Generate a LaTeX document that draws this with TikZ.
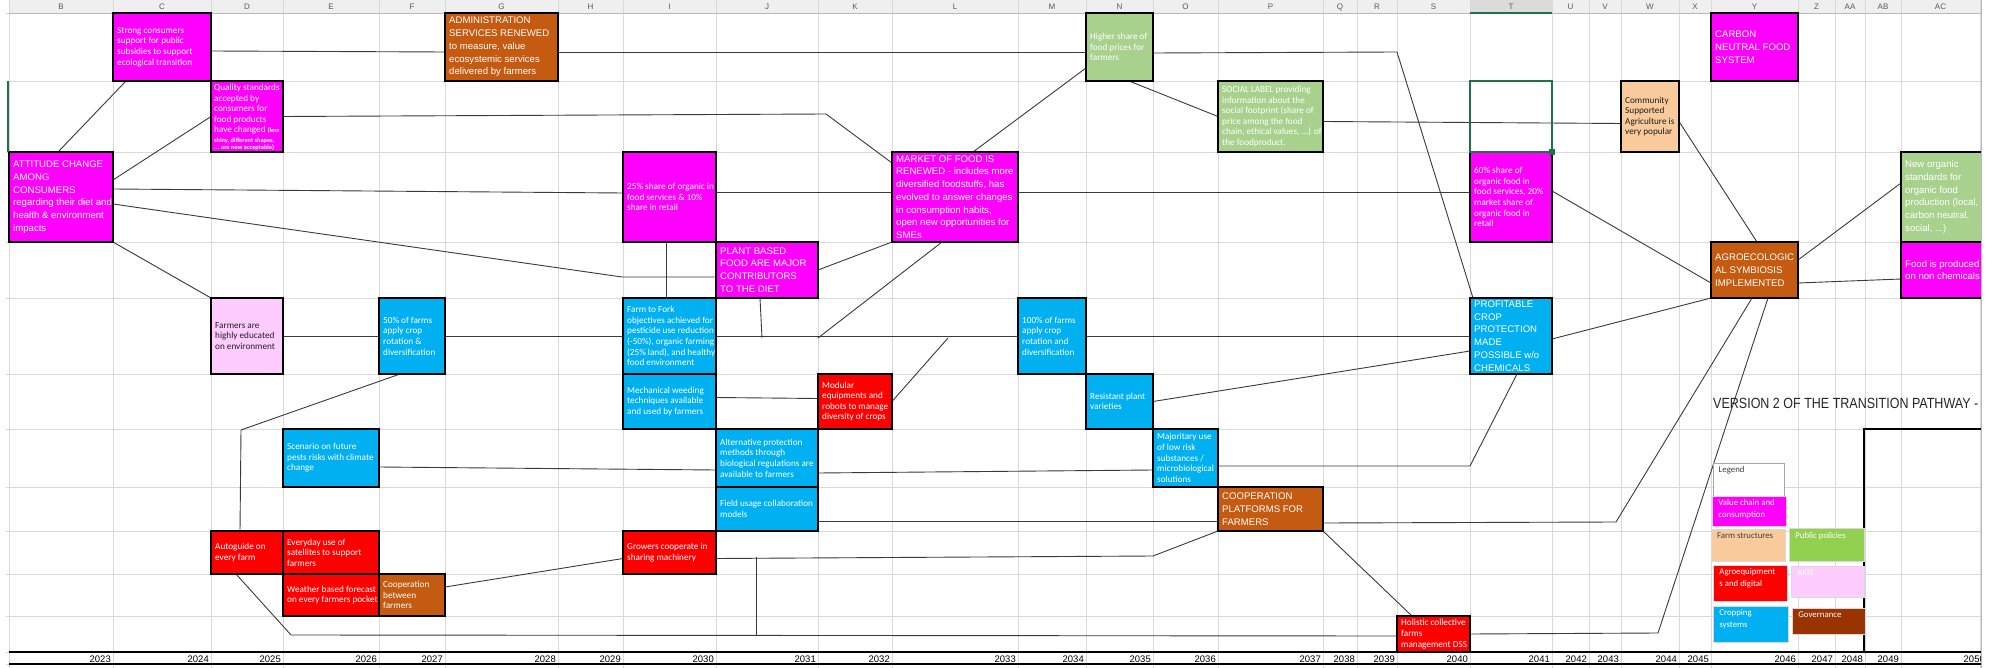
\documentclass[tikz,border=0pt]{standalone}
\usepackage{graphicx}
\usepackage{fontspec}
\setmainfont{Liberation Sans}
\newfontfamily\carl{Carlito}
\usetikzlibrary{calc}
\definecolor{mag}{HTML}{FF00FF}
\definecolor{brn}{HTML}{C55A11}
\definecolor{grn}{HTML}{A9D18E}
\definecolor{pch}{HTML}{F9CB9C}
\definecolor{cyn}{HTML}{00B0F0}
\definecolor{rd}{HTML}{FF0000}
\definecolor{pnk}{HTML}{FFCCFF}
\definecolor{pgreen}{HTML}{92D050}
\definecolor{govc}{HTML}{993300}
\definecolor{gridc}{HTML}{D9D9D9}
\definecolor{conn}{HTML}{3A3A3A}
\definecolor{xlgreen}{HTML}{217346}
\definecolor{hdr}{HTML}{EFEFEF}
\definecolor{darktxt}{HTML}{1E1E1E}
\pgfdeclarelayer{gridlayer}
\pgfdeclarelayer{connlayer}
\pgfsetlayers{gridlayer,connlayer,main}
\tikzset{
 cellbox/.style={draw=black, line width=1.8pt, inner sep=0pt, outer sep=0pt, rectangle},
 smalltxt/.style={font=\carl\fontsize{9.2}{10.6}\selectfont, text=white, align=left, inner sep=0pt, anchor=west},
 bigtxt/.style={font=\fontsize{9.6}{12.7}\selectfont, text=white, align=left, inner sep=0pt, anchor=west},
 conline/.style={draw=conn, line width=0.9pt},
 legbox/.style={draw=#1, line width=0.6pt, inner sep=0pt, outer sep=0pt, rectangle},
 legtxt/.style={font=\carl\fontsize{8.8}{11.7}\selectfont, align=left, inner sep=0pt, anchor=north west},
 yeartxt/.style={font=\fontsize{9.5}{11}\selectfont, anchor=base east, inner sep=0pt, text=black},
 hdrtxt/.style={font=\fontsize{8}{9}\selectfont, text=black!65, inner sep=0pt, anchor=base},
}
\newcommand\xlcell[8]{%
 \node[cellbox,fill=#6,minimum width={(#4-#2)*1pt},minimum height={(#5-#3)*1pt}] (#1) at ({(#2+#4)/2},{(#3+#5)/2}) {};
 \node[#7] (#1-t) at ($(#1.west)+(4,0)$) {#8};}
\newcommand\xlleg[9]{%
 \node[legbox=#6,fill=#7,minimum width={(#4-#2)*1pt},minimum height={(#5-#3)*1pt}] (#1) at ({(#2+#4)/2},{(#3+#5)/2}) {};
 \node[legtxt,text=#8] (#1-t) at ($(#1.north west)+(5.5,3.5)$) {#9};}
\begin{document}
\begin{tikzpicture}[x=1pt,y=-1pt]
\useasboundingbox (0,0) rectangle (1993,668);
\begin{pgfonlayer}{gridlayer}
\fill[white] (0,0) rectangle (1993,668);
\fill[hdr] (9,0) rectangle (1981,13);
\fill[gray!28] (1470,0) rectangle (1552,13);
\foreach \x in {9,113,211,283,379,445,558,623,716,818,892,1018,1086,1153,1218,1323,1357,1397,1470,1552,1589,1621,1679,1711,1798,1835,1865,1901,1980}
  \draw[gridc, line width=0.7pt] (\x,0) -- (\x,668);
\foreach \y in {13,81,152,242,298,374,429,487,531,574,616,652,664}
  \draw[gridc, line width=0.7pt] (6,\y) -- (1981,\y);
\draw[gray!55, line width=0.7pt] (9,13) -- (1981,13);
\draw[xlgreen, line width=1.3pt] (1470,13) -- (1552,13);
\end{pgfonlayer}
\foreach \c/\x in {B/61,C/162,D/247,E/331,F/412,G/501.5,H/590.5,I/669.5,J/767,K/855,L/955,M/1052,N/1119.5,O/1185.5,P/1270.5,Q/1340,R/1377,S/1433.5,T/1511,U/1570.5,V/1605,W/1650,X/1695,Y/1754.5,Z/1816.5,AA/1850,AB/1883,AC/1940.5}
  \node[hdrtxt] (h\c) at (\x,9.5) {\c};
% bend coordinates
\coordinate (b1) at (826,114);
\coordinate (b2) at (622,277);
\coordinate (j1) at (762,338);
\coordinate (j2) at (818,338);
\coordinate (b3) at (1397,52);
\coordinate (b4) at (1616,522);
\coordinate (b5) at (1658,633);
\coordinate (b6) at (241,430);
\coordinate (b7) at (291,635);
\coordinate (j3) at (948,338);
\coordinate (b8) at (1153,556);
\coordinate (j4) at (756,557);
\coordinate (j5) at (756,635);
\coordinate (b9) at (1470,466);
% boxes
\xlcell{strong}{113}{13}{211}{81}{mag}{smalltxt}{Strong consumers\\support for public\\subsidies to support\\ecological transition}
\xlcell{admin}{445}{13}{558}{81}{brn}{bigtxt}{ADMINISTRATION\\SERVICES RENEWED\\to measure, value\\ecosystemic services\\delivered by farmers}
\node[cellbox,fill=mag,minimum width=72pt,minimum height=71pt] (quality) at (247,116.5) {};
\node[smalltxt,anchor=north west] (quality-t) at ($(quality.north west)+(3,3)$) {Quality standards\\accepted by\\consumers for\\food products\\have changed {\bfseries\fontsize{6.3}{7.7}\selectfont (less}};
\node[smalltxt,anchor=north west,font=\carl\bfseries\fontsize{6.3}{7.7}\selectfont] (quality-t2) at ($(quality.north west)+(3,56.5)$) {shiny, different shapes,\\... are now acceptable)};
\xlcell{att}{9}{152}{113}{242}{mag}{bigtxt}{ATTITUDE CHANGE\\AMONG\\CONSUMERS\\regarding their diet and\\health \& environment\\impacts}
\xlcell{higher}{1086}{13}{1153}{81}{grn}{smalltxt}{Higher share of\\food prices for\\farmers}
\xlcell{social}{1218}{81}{1323}{152}{grn}{smalltxt}{SOCIAL LABEL providing\\information about the\\social footprint (share of\\price among the food\\chain, ethical values, ...) of\\the foodproduct.}
\xlcell{carbon}{1711}{13}{1798}{81}{mag}{bigtxt}{CARBON\\NEUTRAL FOOD\\SYSTEM}
\xlcell{csa}{1621}{81}{1679}{152}{pch}{smalltxt,text=darktxt}{Community\\Supported\\Agriculture is\\very popular}
\xlcell{p25}{623}{152}{716}{242}{mag}{smalltxt}{25\% share of organic in\\food services \& 10\%\\share in retail}
\xlcell{market}{892}{152}{1018}{242}{mag}{bigtxt}{MARKET OF FOOD IS\\RENEWED - includes more\\diversified foodstuffs, has\\evolved to answer changes\\in consumption habits,\\open new opportunities for\\SMEs}
\xlcell{p60}{1470}{152}{1552}{242}{mag}{smalltxt}{60\% share of\\organic food in\\food services, 20\%\\market share of\\organic food in\\retail}
\xlcell{neworg}{1901}{152}{1982}{242}{grn}{bigtxt}{New organic\\standards for\\organic food\\production (local,\\carbon neutral,\\social, ...)}
\xlcell{plant}{716}{242}{818}{298}{mag}{bigtxt}{PLANT BASED\\FOOD ARE MAJOR\\CONTRIBUTORS\\TO THE DIET}
\xlcell{agro}{1711}{242}{1798}{298}{brn}{bigtxt}{AGROECOLOGIC\\AL SYMBIOSIS\\IMPLEMENTED}
\xlcell{foodnc}{1901}{242}{1982}{298}{mag}{bigtxt}{Food is produced\\on non chemicals}
\xlcell{educ}{211}{298}{283}{374}{pnk}{smalltxt,text=darktxt}{Farmers are\\highly educated\\on environment}
\xlcell{f50}{379}{298}{445}{374}{cyn}{smalltxt}{50\% of farms\\apply crop\\rotation \&\\diversification}
\xlcell{f2f}{623}{298}{716}{374}{cyn}{smalltxt}{Farm to Fork\\objectives achieved for\\pesticide use reduction\\(-50\%), organic farming\\(25\% land), and healthy\\food environment}
\xlcell{f100}{1018}{298}{1086}{374}{cyn}{smalltxt}{100\% of farms\\apply crop\\rotation and\\diversification}
\xlcell{profit}{1470}{298}{1552}{374}{cyn}{bigtxt}{PROFITABLE\\CROP\\PROTECTION\\MADE\\POSSIBLE w/o\\CHEMICALS}
\xlcell{mech}{623}{374}{716}{429}{cyn}{smalltxt}{Mechanical weeding\\techniques available\\and used by farmers}
\xlcell{modular}{818}{374}{892}{429}{rd}{smalltxt}{Modular\\equipments and\\robots to manage\\diversity of crops}
\xlcell{resist}{1086}{374}{1153}{429}{cyn}{smalltxt}{Resistant plant\\varieties}
\xlcell{scen}{283}{429}{379}{487}{cyn}{smalltxt}{Scenario on future\\pests risks with climate\\change}
\xlcell{altprot}{716}{429}{818}{487}{cyn}{smalltxt}{Alternative protection\\methods through\\biological regulations are\\available to farmers}
\xlcell{major}{1153}{429}{1218}{487}{cyn}{smalltxt}{Majoritary use\\of low risk\\substances /\\microbiological\\solutions}
\xlcell{field}{716}{487}{818}{531}{cyn}{smalltxt}{Field usage collaboration\\models}
\xlcell{coopplat}{1218}{487}{1323}{531}{brn}{bigtxt}{COOPERATION\\PLATFORMS FOR\\FARMERS}
\xlcell{autog}{211}{531}{283}{574}{rd}{smalltxt}{Autoguide on\\every farm}
\xlcell{everyday}{283}{531}{379}{574}{rd}{smalltxt}{Everyday use of\\satellites to support\\farmers}
\xlcell{growers}{623}{531}{716}{574}{rd}{smalltxt}{Growers cooperate in\\sharing machinery}
\xlcell{weather}{283}{574}{379}{616}{rd}{smalltxt}{Weather based forecast\\on every farmers pocket}
\xlcell{coopfarm}{379}{574}{445}{616}{brn}{smalltxt}{Cooperation\\between\\farmers}
\xlcell{holistic}{1397}{616}{1470}{652}{rd}{smalltxt}{Holistic collective\\farms\\management DSS}
% connectors
\begin{pgfonlayer}{connlayer}
\draw[conline] ($(strong.south west)+(13,0)$) -- ($(att.north west)+(49,0)$);
\draw[conline] ($(strong.east)+(0,4)$) -- ($(admin.west)+(0,5)$);
\draw[conline] (quality.west) -- ($(att.north east)+(0,28)$);
\draw[conline] (quality.east) -- (b1) -- ($(market.north west)+(0,11)$);
\draw[conline] ($(att.east)+(0,-8)$) -- ($(p25.west)+(0,-4)$);
\draw[conline] ($(att.east)+(0,7)$) -- (b2) -- ($(plant.west)+(0,7)$);
\draw[conline] (att.south east) -- (educ.north west);
\draw[conline] ($(admin.east)+(0,5)$) -- ($(higher.west)+(0,5)$);
\draw[conline] ($(p25.east)+(0,-5)$) -- ($(market.west)+(0,-5)$);
\draw[conline] ($(p25.south west)+(43,0)$) -- ($(f2f.north west)+(43,0)$);
\draw[conline] (plant.east) -- (market.south west);
\draw[conline] ($(plant.south west)+(44,0)$) -- (j1);
\draw[conline] ($(market.south west)+(50,0)$) -- (j2);
\draw[conline] ($(market.north west)+(81,0)$) -- ($(higher.north west)+(0,55)$);
\draw[conline] ($(higher.east)+(0,6)$) -- (b3) -- ($(profit.north west)+(3,0)$);
\draw[conline] ($(higher.south west)+(43,0)$) -- (social.west);
\draw[conline] ($(social.east)+(0,5)$) -- ($(csa.west)+(0,7)$);
\draw[conline] ($(market.east)+(0,-5)$) -- ($(p60.west)+(0,-5)$);
\draw[conline] (f100.east) -- (profit.west);
\draw[conline] ($(csa.east)+(0,5)$) -- ($(agro.north west)+(46,0)$);
\draw[conline] ($(p60.east)+(0,-6)$) -- ($(agro.west)+(0,13)$);
\draw[conline] ($(agro.east)+(0,-10)$) -- ($(neworg.west)+(0,-14)$);
\draw[conline] ($(agro.east)+(0,13)$) -- ($(foodnc.west)+(0,9)$);
\draw[conline] (agro.south west) -- ($(profit.east)+(0,3)$);
\draw[conline] ($(coopplat.east)+(0,14)$) -- (b4) -- ($(agro.south west)+(41,0)$);
\draw[conline] (holistic.east) -- (b5) -- ($(agro.south west)+(57,0)$);
\draw[conline] (educ.east) -- (f50.west);
\draw[conline] (f50.east) -- (f2f.west);
\draw[conline] ($(autog.north west)+(29,0)$) -- (b6) -- ($(f50.south west)+(21,0)$);
\draw[conline] ($(scen.east)+(0,9)$) -- ($(altprot.west)+(0,12)$);
\draw[conline] ($(autog.south west)+(25,0)$) -- (b7) -- ($(holistic.west)+(0,2)$);
\draw[conline] ($(coopfarm.east)+(0,-8)$) -- ($(growers.west)+(0,6)$);
\draw[conline] (f2f.east) -- (f100.west);
\draw[conline] (modular.east) -- (j3);
\draw[conline] ($(mech.east)+(0,-4)$) -- ($(modular.west)+(0,-3)$);
\draw[conline] ($(altprot.east)+(0,15)$) -- ($(major.west)+(0,12)$);
\draw[conline] ($(field.east)+(0,12)$) -- ($(coopplat.west)+(0,12)$);
\draw[conline] ($(growers.east)+(0,6)$) -- (b8) -- (coopplat.south west);
\draw[conline] (j4) -- (j5);
\draw[conline] (resist.east) -- ($(profit.west)+(0,15)$);
\draw[conline] ($(major.east)+(0,8)$) -- (b9) -- ($(profit.south west)+(47,0)$);
\draw[conline] (coopplat.south east) -- ($(holistic.north west)+(15,0)$);
\end{pgfonlayer}
% selection marks
\draw[xlgreen, line width=1.3pt] (1470,81) rectangle (1552,152);
\fill[xlgreen] (1549,149) rectangle (1555,155);
\draw[xlgreen, line width=1.6pt] (8,81) -- (8,152);
% title
\node[anchor=base west, inner sep=0pt, text=black!85] (vtitle) at (1713,408) {\resizebox{265pt}{10.3pt}{VERSION 2 OF THE TRANSITION PATHWAY -}};
% thick frame
\draw[line width=1.8pt] (1864,652) -- (1864,429) -- (1981,429);
% legend
\xlleg{lg}{1713}{463}{1784}{496}{gray!70}{white}{black!75}{Legend}
\xlleg{lgvc}{1712.7}{496}{1786}{526}{gray!30}{mag}{white}{Value chain and\\consumption}
\xlleg{lgfs}{1711.3}{529.3}{1785.7}{561.7}{gray!30}{pch}{black!75}{Farm structures}
\xlleg{lgpp}{1789.7}{528.7}{1864.3}{561.7}{gray!30}{pgreen}{white}{Public policies}
\xlleg{lgae}{1713.7}{565}{1787.3}{601}{gray!30}{rd}{white}{Agroequipment\\s and digital}
\xlleg{lgak}{1791.7}{566}{1864.3}{597}{gray!30}{pnk}{white}{AKIS}
\xlleg{lgcs}{1713.7}{606}{1788.3}{642.3}{gray!30}{cyn}{white}{Cropping\\systems}
\xlleg{lggv}{1792.7}{608.3}{1865}{634}{gray!30}{govc}{white}{Governance}
% years
\foreach \yr/\x in {2023/111,2024/209,2025/281,2026/377,2027/443,2028/556,2029/621,2030/714,2031/816,2032/890,2033/1016,2034/1084,2035/1151,2036/1216,2037/1321,2038/1355,2039/1395,2040/1468,2041/1550,2042/1587,2043/1619,2044/1677,2045/1709,2046/1796,2047/1833,2048/1863,2049/1899,2050/1985}
  \node[yeartxt] (y\yr) at (\x,662.5) {\yr};
\draw[line width=1.6pt] (9,652) -- (1981,652);
\draw[line width=1.6pt] (9,664) -- (1981,664);
% window edge
\fill[white] (1981,0) rectangle (1993,668);
\draw[gray!55, line width=1.2pt] (1981.6,0) -- (1981.6,668);
\end{tikzpicture}
\end{document}
